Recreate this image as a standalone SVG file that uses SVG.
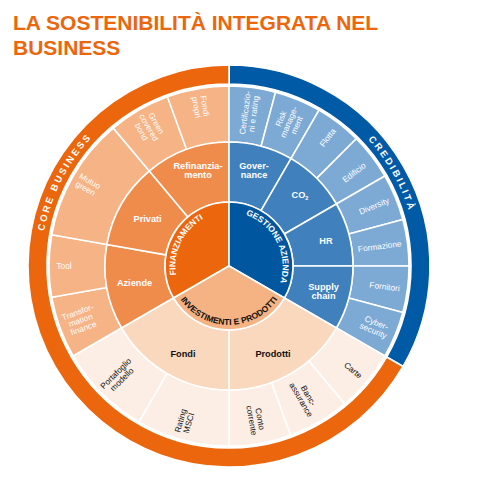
<svg xmlns="http://www.w3.org/2000/svg" width="477" height="485" viewBox="0 0 477 485">
<style>
.seg{stroke:#fff;stroke-width:1.6;stroke-linejoin:round}
.o1{fill:#EB660C}.o2{fill:#F08C4B}.o3{fill:#F5B386}
.b0{fill:#005AA6}.b1{fill:#0057A0}.b2{fill:#3F80BD}.b3{fill:#7DAAD5}
.p1{fill:#F5B282}.p2{fill:#F9D8BE}.p3{fill:#FCEEE4}
text{font-family:"Liberation Sans",Arial,sans-serif}
.title{font-size:21px;font-weight:bold;fill:#EB660C}
.band{font-size:9.5px;font-weight:bold;fill:#fff;letter-spacing:2.2px}
.inner{font-size:8.5px;font-weight:bold}
.mid{font-size:9.2px;font-weight:bold;text-anchor:middle}
.out{font-size:8.3px;text-anchor:middle}
.w{fill:#fff}.k{fill:#111}
</style>
<defs>
<path id="pCore" d="M55.9,339.5 A188,188 0 0 1 186.7,82.8"/>
<path id="pCred" d="M263.3,81.1 A188,188 0 0 1 405.1,331.8"/>
<path id="pFin" d="M179.7,288 A55,55 0 0 1 215.9,213.6"/>
<path id="pGes" d="M241.2,213.4 A55,55 0 0 1 278.7,287.1"/>
<path id="pInv" d="M173.6,286.2 A59,59 0 0 0 284.4,286.2"/>
</defs>

<text class="title" x="13" y="30">LA SOSTENIBILITÀ INTEGRATA NEL</text>
<text class="title" x="13" y="55">BUSINESS</text>

<g id="band-credibilita">
<path class="seg b0" d="M229,65 A201,201 0 0 1 403.07,366.5 L386.62,357 A182,182 0 0 0 229,84 Z"/>
<text class="band"><textPath href="#pCred" startOffset="50%" text-anchor="middle">CREDIBILITÀ</textPath></text>
</g>
<g id="band-core-business">
<path class="seg o1" d="M403.07,366.5 A201,201 0 1 1 229,65 L229,84 A182,182 0 1 0 386.62,357 Z"/>
<text class="band"><textPath href="#pCore" startOffset="50%" text-anchor="middle">CORE BUSINESS</textPath></text>
</g>

<!-- outer ring -->
<g id="transformation-finance"><path class="seg o3" d="M73.12,356 A180,180 0 0 1 51.74,297.25 L106.88,287.53 A124,124 0 0 0 121.62,328 Z"/>
<text class="out w" transform="translate(80.5,320) rotate(-20)"><tspan x="0" y="-5.5">Transfor-</tspan><tspan x="0" y="3">mation</tspan><tspan x="0" y="11.5">finance</tspan></text></g>
<g id="tool"><path class="seg o3" d="M51.74,297.25 A180,180 0 0 1 51.74,234.75 L106.88,244.47 A124,124 0 0 0 106.88,287.53 Z"/>
<text class="out w" x="64" y="269">Tool</text></g>
<g id="mutuo-green"><path class="seg o3" d="M51.74,234.75 A180,180 0 0 1 113.3,128.12 L149.29,171.02 A124,124 0 0 0 106.88,244.47 Z"/>
<text class="out w" transform="translate(87.8,184.5) rotate(30)"><tspan x="0" y="-1.2">Mutuo</tspan><tspan x="0" y="7.3">green</tspan></text></g>
<g id="green-covered-bond"><path class="seg o3" d="M113.3,128.12 A180,180 0 0 1 167.44,96.85 L186.59,149.48 A124,124 0 0 0 149.29,171.02 Z"/>
<text class="out w" transform="translate(149,127.4) rotate(60)"><tspan x="0" y="-5.5">Green</tspan><tspan x="0" y="3">covered</tspan><tspan x="0" y="11.5">bond</tspan></text></g>
<g id="fondi-propri"><path class="seg o3" d="M167.44,96.85 A180,180 0 0 1 229,86 L229,142 A124,124 0 0 0 186.59,149.48 Z"/>
<text class="out w" transform="translate(200.9,106.5) rotate(80)"><tspan x="0" y="-1.2">Fondi</tspan><tspan x="0" y="7.3">propri</tspan></text></g>
<g id="certificazioni"><path class="seg b3" d="M229,86 A180,180 0 0 1 275.58,92.14 L261.09,146.23 A124,124 0 0 0 229,142 Z"/>
<text class="out w" transform="translate(249.1,113.3) rotate(-82.5)"><tspan x="0" y="-1.2">Certificazio-</tspan><tspan x="0" y="7.3">ni e rating</tspan></text></g>
<g id="risk-management"><path class="seg b3" d="M275.58,92.14 A180,180 0 0 1 319,110.12 L291,158.62 A124,124 0 0 0 261.09,146.23 Z"/>
<text class="out w" transform="translate(288.7,121.9) rotate(-67.5)"><tspan x="0" y="-5.5">Risk</tspan><tspan x="0" y="3">manage-</tspan><tspan x="0" y="11.5">ment</tspan></text></g>
<g id="flotta"><path class="seg b3" d="M319,110.12 A180,180 0 0 1 356.28,138.72 L316.68,178.32 A124,124 0 0 0 291,158.62 Z"/>
<text class="out w" transform="translate(327.6,137.5) rotate(-52.5)" y="3">Flotta</text></g>
<g id="edificio"><path class="seg b3" d="M356.28,138.72 A180,180 0 0 1 384.88,176 L336.38,204 A124,124 0 0 0 316.68,178.32 Z"/>
<text class="out w" transform="translate(354,172.5) rotate(-37.5)" y="3">Edificio</text></g>
<g id="diversity"><path class="seg b3" d="M384.88,176 A180,180 0 0 1 402.86,219.42 L348.77,233.91 A124,124 0 0 0 336.38,204 Z"/>
<text class="out w" transform="translate(374,205.9) rotate(-22.5)" y="3">Diversity</text></g>
<g id="formazione"><path class="seg b3" d="M402.86,219.42 A180,180 0 0 1 409,266 L353,266 A124,124 0 0 0 348.77,233.91 Z"/>
<text class="out w" transform="translate(379.7,246.2) rotate(-7.5)" y="3">Formazione</text></g>
<g id="fornitori"><path class="seg b3" d="M409,266 A180,180 0 0 1 402.86,312.58 L348.77,298.09 A124,124 0 0 0 353,266 Z"/>
<text class="out w" transform="translate(384.6,286.5) rotate(7.5)" y="3">Fornitori</text></g>
<g id="cyber-security"><path class="seg b3" d="M402.86,312.58 A180,180 0 0 1 384.88,356 L336.38,328 A124,124 0 0 0 348.77,298.09 Z"/>
<text class="out w" transform="translate(375,326.5) rotate(22.5)"><tspan x="0" y="-1.2">Cyber-</tspan><tspan x="0" y="7.3">security</tspan></text></g>
<g id="carte"><path class="seg p3" d="M384.88,356 A180,180 0 0 1 344.7,403.88 L308.71,360.98 A124,124 0 0 0 336.38,328 Z"/>
<text class="out k" transform="translate(353.1,370.1) rotate(40)" y="3">Carte</text></g>
<g id="bancassurance"><path class="seg p3" d="M344.7,403.88 A180,180 0 0 1 290.56,435.15 L271.41,382.52 A124,124 0 0 0 308.71,360.98 Z"/>
<text class="out k" transform="translate(305,397.6) rotate(60)"><tspan x="0" y="-1.2">Banc-</tspan><tspan x="0" y="7.3">assurance</tspan></text></g>
<g id="conto-corrente"><path class="seg p3" d="M290.56,435.15 A180,180 0 0 1 229,446 L229,390 A124,124 0 0 0 271.41,382.52 Z"/>
<text class="out k" transform="translate(256.1,419.6) rotate(80)"><tspan x="0" y="-1.2">Conto</tspan><tspan x="0" y="7.3">corrente</tspan></text></g>
<g id="rating-msci"><path class="seg p3" d="M229,446 A180,180 0 0 1 139,421.88 L167,373.38 A124,124 0 0 0 229,390 Z"/>
<text class="out k" transform="translate(184.4,421.7) rotate(-74)"><tspan x="0" y="-1.2">Rating</tspan><tspan x="0" y="7.3">MSCI</tspan></text></g>
<g id="portafoglio-modello"><path class="seg p3" d="M139,421.88 A180,180 0 0 1 73.12,356 L121.62,328 A124,124 0 0 0 167,373.38 Z"/>
<text class="out k" transform="translate(118.7,376.3) rotate(-45)"><tspan x="0" y="-1.2">Portafoglio</tspan><tspan x="0" y="7.3">modello</tspan></text></g>

<!-- middle ring -->
<g id="aziende"><path class="seg o2" d="M121.62,328 A124,124 0 0 1 106.88,244.47 L165.97,254.89 A64,64 0 0 0 173.58,298 Z"/>
<text class="mid w" x="134.5" y="286">Aziende</text></g>
<g id="privati"><path class="seg o2" d="M106.88,244.47 A124,124 0 0 1 149.29,171.02 L187.86,216.98 A64,64 0 0 0 165.97,254.89 Z"/>
<text class="mid w" x="147.6" y="222">Privati</text></g>
<g id="refinanziamento"><path class="seg o2" d="M149.29,171.02 A124,124 0 0 1 229,142 L229,202 A64,64 0 0 0 187.86,216.98 Z"/>
<text class="mid w"><tspan x="198" y="168.5">Refinanzia-</tspan><tspan x="198" y="178">mento</tspan></text></g>
<g id="governance"><path class="seg b2" d="M229,142 A124,124 0 0 1 291,158.62 L261,210.57 A64,64 0 0 0 229,202 Z"/>
<text class="mid w"><tspan x="254" y="168.5">Gover-</tspan><tspan x="254" y="178">nance</tspan></text></g>
<g id="co2"><path class="seg b2" d="M291,158.62 A124,124 0 0 1 336.38,204 L284.43,234 A64,64 0 0 0 261,210.57 Z"/>
<text class="mid w" x="300" y="198">CO<tspan font-size="5.5" dy="2">2</tspan></text></g>
<g id="hr"><path class="seg b2" d="M336.38,204 A124,124 0 0 1 353,266 L293,266 A64,64 0 0 0 284.43,234 Z"/>
<text class="mid w" x="326" y="243.5">HR</text></g>
<g id="supply-chain"><path class="seg b2" d="M353,266 A124,124 0 0 1 336.38,328 L284.42,298 A64,64 0 0 0 293,266 Z"/>
<text class="mid w"><tspan x="323.5" y="289.5">Supply</tspan><tspan x="323.5" y="299">chain</tspan></text></g>
<g id="prodotti"><path class="seg p2" d="M336.38,328 A124,124 0 0 1 229,390 L229,330 A64,64 0 0 0 284.42,298 Z"/>
<text class="mid k" x="273" y="357">Prodotti</text></g>
<g id="fondi"><path class="seg p2" d="M229,390 A124,124 0 0 1 121.62,328 L173.58,298 A64,64 0 0 0 229,330 Z"/>
<text class="mid k" x="183" y="357">Fondi</text></g>

<!-- inner -->
<g id="finanziamenti"><path class="seg o1" d="M229,266 L173.58,298 A64,64 0 0 1 229,202 Z"/>
<text class="inner w"><textPath href="#pFin" startOffset="50%" text-anchor="middle">FINANZIAMENTI</textPath></text></g>
<g id="gestione-azienda"><path class="seg b1" d="M229,266 L229,202 A64,64 0 0 1 284.42,298 Z"/>
<text class="inner w"><textPath href="#pGes" startOffset="50%" text-anchor="middle">GESTIONE AZIENDA</textPath></text></g>
<g id="investimenti-prodotti"><path class="seg p1" d="M229,266 L284.42,298 A64,64 0 0 1 173.58,298 Z"/>
<text class="inner k"><textPath href="#pInv" startOffset="50%" text-anchor="middle">INVESTIMENTI E PRODOTTI</textPath></text></g>
</svg>
